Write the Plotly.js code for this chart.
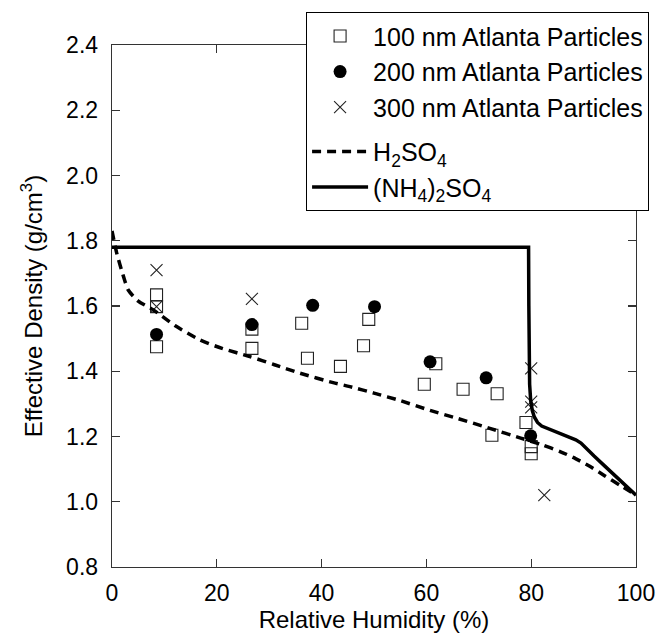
<!DOCTYPE html>
<html>
<head>
<meta charset="utf-8">
<script src="https://cdn.plot.ly/plotly-3.0.1.min.js"></script>
<style>html,body{margin:0;padding:0;background:#fff;}#chart{width:661px;height:640px;}</style>
</head>
<body>
<div id="chart"></div>
<script>
// 100 nm Atlanta particles
const rh100 = [8.5, 8.5, 8.5, 26.7, 26.7, 36.2, 37.3, 43.6, 48.0, 49.0, 59.6, 61.8, 67.0, 72.5, 73.5, 79.0, 80.0, 80.0];
const rho100 = [1.634, 1.598, 1.475, 1.529, 1.470, 1.547, 1.440, 1.415, 1.478, 1.559, 1.360, 1.423, 1.345, 1.204, 1.331, 1.243, 1.169, 1.147];
// 200 nm Atlanta particles
const rh200 = [8.5, 26.7, 38.3, 50.1, 60.7, 71.4, 79.9];
const rho200 = [1.513, 1.543, 1.602, 1.598, 1.429, 1.380, 1.202];
// 300 nm Atlanta particles
const rh300 = [8.5, 8.5, 26.7, 80.0, 80.0, 80.0, 82.5];
const rho300 = [1.710, 1.598, 1.622, 1.409, 1.307, 1.289, 1.020];
// H2SO4 curve
const rhH2SO4 = [0, 0.9, 2.2, 3.1, 5, 7.9, 12, 16.8, 21, 26.3, 31, 35.9, 42.2, 45.4, 50, 55, 60.7, 66, 72.1, 78, 82, 85.5, 88, 91, 94, 97, 100];
const rhoH2SO4 = [1.83, 1.762, 1.69, 1.649, 1.615, 1.588, 1.540, 1.496, 1.470, 1.445, 1.420, 1.394, 1.365, 1.353, 1.333, 1.310, 1.280, 1.255, 1.225, 1.195, 1.175, 1.154, 1.136, 1.110, 1.080, 1.050, 1.020];
// (NH4)2SO4 curve
const rhAS = [0, 79.5, 79.55, 79.6, 79.7, 79.9, 80.2, 80.6, 81.2, 82.0, 83.5, 85.0, 87.0, 88.5, 89.5, 90.5, 92.0, 94.0, 96.0, 98.0, 100];
const rhoAS = [1.78, 1.78, 1.60, 1.45, 1.36, 1.31, 1.28, 1.26, 1.243, 1.232, 1.222, 1.212, 1.200, 1.190, 1.180, 1.163, 1.140, 1.110, 1.080, 1.050, 1.020];

const names = ['100 nm Atlanta Particles', '200 nm Atlanta Particles', '300 nm Atlanta Particles',
  'H<sub>2</sub>SO<sub>4</sub>', '(NH<sub>4</sub>)<sub>2</sub>SO<sub>4</sub>'];

const FONT = 'Liberation Sans, Arial, Helvetica, sans-serif';

const traces = [
  {x: rh100, y: rho100, mode: 'markers', name: names[0], type: 'scatter', legendgroup: 'pts',
   marker: {symbol: 'square-open', size: 12, color: '#222', line: {width: 1.1}}},
  {x: rh200, y: rho200, mode: 'markers', name: names[1], type: 'scatter', legendgroup: 'pts',
   marker: {symbol: 'circle', size: 13, color: '#000'}},
  {x: rh300, y: rho300, mode: 'markers', name: names[2], type: 'scatter', legendgroup: 'pts',
   marker: {symbol: 'x-thin-open', size: 12, color: '#222', line: {width: 1.1}}},
  {x: rhH2SO4, y: rhoH2SO4, mode: 'lines', name: names[3], type: 'scatter', legendgroup: 'lines',
   line: {color: '#000', width: 3.5, dash: '9px,6px', shape: 'spline', smoothing: 0.6}},
  {x: rhAS, y: rhoAS, mode: 'lines', name: names[4], type: 'scatter', legendgroup: 'lines',
   line: {color: '#000', width: 3.5, shape: 'linear'}}
];

const axisCommon = {
  showgrid: false, zeroline: false, showline: true, linecolor: '#333', linewidth: 1.3,
  mirror: 'ticks', ticks: 'inside', ticklen: 8, tickcolor: '#333', tickwidth: 1.2,
  tickfont: {family: FONT, size: 23, color: '#000'}
};

const layout = {
  width: 661, height: 640,
  margin: {l: 112, r: 25, t: 45, b: 73},
  paper_bgcolor: '#fff', plot_bgcolor: '#fff',
  font: {family: FONT, color: '#000'},
  showlegend: true,
  legend: {x: 0.37, y: 1.063, xanchor: 'left', yanchor: 'top',
    bgcolor: '#fff', bordercolor: '#000', borderwidth: 1.2,
    itemwidth: 56, traceorder: 'grouped', tracegroupgap: 9,
    font: {family: FONT, size: 25, color: '#000'}},
  xaxis: Object.assign({}, axisCommon, {
    range: [0, 100], tickvals: [0, 20, 40, 60, 80, 100],
    ticklabelstandoff: 5,
    title: {text: 'Relative Humidity (%)', font: {size: 24, family: FONT}, standoff: 4}
  }),
  yaxis: Object.assign({}, axisCommon, {
    range: [0.8, 2.4], tickvals: [0.8, 1.0, 1.2, 1.4, 1.6, 1.8, 2.0, 2.2, 2.4], tickformat: '.1f',
    ticklabelstandoff: 8,
    title: {text: 'Effective Density (g/cm<sup>3</sup>)', font: {size: 24, family: FONT}, standoff: 16}
  })
};

Plotly.newPlot('chart', traces, layout, {displayModeBar: false, staticPlot: true});
</script>
</body>
</html>
